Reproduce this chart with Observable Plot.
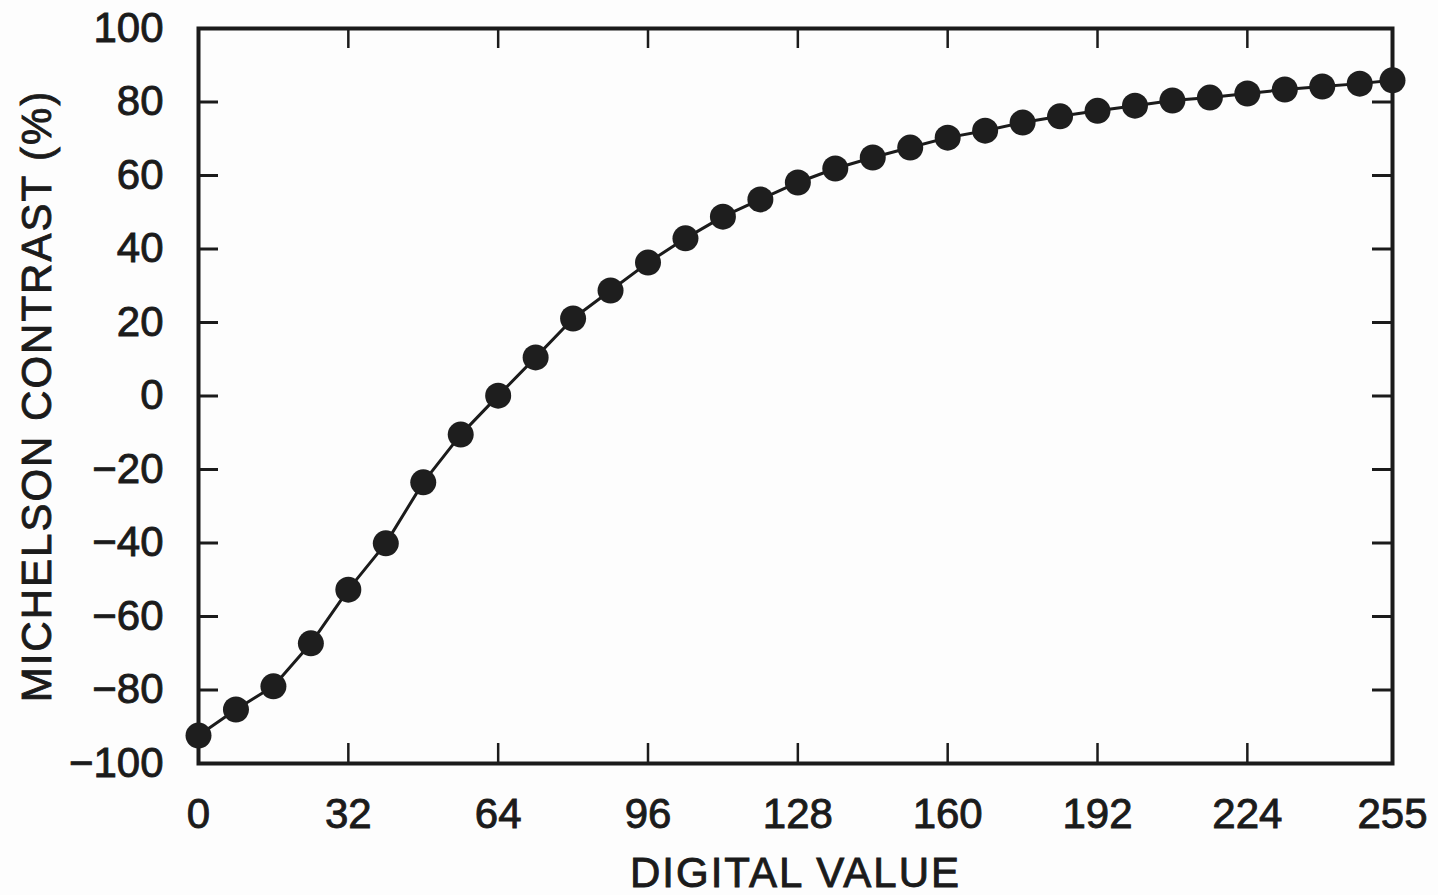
<!DOCTYPE html>
<html>
<head>
<meta charset="utf-8">
<script src="https://cdn.jsdelivr.net/npm/d3@7"></script>
<script src="https://cdn.jsdelivr.net/npm/@observablehq/plot@0.6"></script>
<style>
  html, body { margin: 0; padding: 0; background: #fdfdfd; }
  #chart svg { display: block; }
</style>
</head>
<body>
<div id="chart"></div>
<script>
const digitalValues = [0, 8, 16, 24, 32, 40, 48, 56, 64, 72, 80, 88, 96, 104, 112, 120, 128,
  136, 144, 152, 160, 168, 176, 184, 192, 200, 208, 216, 224, 232, 240, 248, 255];
const contrast = [-92.4, -85.3, -79.0, -67.3, -52.7, -40.1, -23.5, -10.5, 0.1, 10.5, 21.1,
  28.7, 36.3, 42.9, 48.8, 53.5, 58.1, 61.9, 64.9, 67.6, 70.3, 72.2, 74.4, 76.1, 77.6,
  79.0, 80.4, 81.2, 82.3, 83.4, 84.2, 85.0, 85.9];
const xTickLabels = [0, 32, 64, 96, 128, 160, 192, 224, 255];
const yTickLabels = [-100, -80, -60, -40, -20, 0, 20, 40, 60, 80, 100];
const xInnerTicks = [32, 64, 96, 128, 160, 192, 224];
const yInnerTicks = [-80, -60, -40, -20, 0, 20, 40, 60, 80];
const xLabel = "DIGITAL VALUE";
const yLabel = "MICHELSON CONTRAST (%)";

const data = digitalValues.map((x, i) => ({x, y: contrast[i]}));

const W = 1438, H = 895;
const mL = 198, mR = 46, mT = 28, mB = 132;
const plotH = H - mT - mB;
const plotW = W - mL - mR;
const tick = 20;
const ink = "#1b1b1b";

const chart = Plot.plot({
  width: W,
  height: H,
  marginLeft: mL,
  marginRight: mR,
  marginTop: mT,
  marginBottom: mB,
  style: {
    fontFamily: "'Liberation Sans', Arial, Helvetica, sans-serif",
    fontSize: "42px",
    color: ink,
    background: "#fdfdfd"
  },
  x: {domain: [0, 255]},
  y: {domain: [-100, 100]},
  marks: [
    Plot.axisX(xTickLabels, {anchor: "bottom", tickSize: 0, tickPadding: 35, label: null,
      tickFormat: d => String(d), fontSize: 42, fill: ink}),
    Plot.axisY(yTickLabels, {anchor: "left", tickSize: 0, tickPadding: 35, label: null,
      tickFormat: d => d < 0 ? "\u2212" + Math.abs(d) : String(d), fontSize: 42, fill: ink}),
    // inward ticks
    Plot.tickX(xInnerTicks, {x: d => d, insetTop: plotH - tick, stroke: ink, strokeWidth: 2.5}),
    Plot.tickX(xInnerTicks, {x: d => d, insetBottom: plotH - tick, stroke: ink, strokeWidth: 2.5}),
    Plot.tickY(yInnerTicks, {y: d => d, insetRight: plotW - tick, stroke: ink, strokeWidth: 3}),
    Plot.tickY(yInnerTicks, {y: d => d, insetLeft: plotW - tick, stroke: ink, strokeWidth: 3}),
    Plot.frame({stroke: ink, strokeWidth: 4}),
    Plot.line(data, {x: "x", y: "y", stroke: ink, strokeWidth: 3}),
    Plot.dot(data, {x: "x", y: "y", r: 13, fill: "#1e1e1e", stroke: "none"}),
    Plot.text([xLabel], {frameAnchor: "bottom", dy: 123, lineAnchor: "bottom", textAnchor: "middle",
      fontSize: 42, fill: ink}),
    Plot.text([yLabel], {frameAnchor: "left", dx: -161, rotate: -90, textAnchor: "middle",
      lineAnchor: "middle", fontSize: 42, fill: ink})
  ]
});
chart.querySelectorAll("text").forEach(t => {
  if (t.textContent === xLabel || t.textContent === yLabel) t.setAttribute("letter-spacing", "2");
  t.setAttribute("stroke", ink);
  t.setAttribute("stroke-width", "0.9");
});
document.getElementById("chart").appendChild(chart);
</script>
</body>
</html>
